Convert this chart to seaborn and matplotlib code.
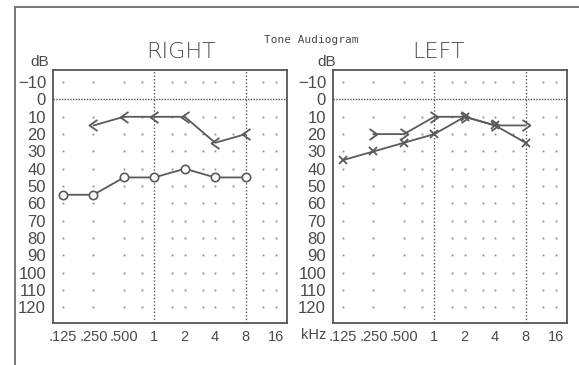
import numpy as np
import pandas as pd
import matplotlib
matplotlib.use("Agg")
import matplotlib.pyplot as plt
from matplotlib.lines import Line2D
from matplotlib.path import Path
from matplotlib.markers import MarkerStyle
import seaborn as sns

# ---- data ----
freqs = [0.125, 0.25, 0.5, 1, 2, 4, 8]
bone_freqs = [0.25, 0.5, 1, 2, 4, 8]
right_air = [55, 55, 45, 45, 40, 45, 45]
right_bone = [15, 10, 10, 10, 25, 20]
left_air = [35, 30, 25, 20, 10, 15, 25]
left_bone = [20, 20, 10, 10, 15, 15]
tick_freqs = [0.125, 0.25, 0.5, 1, 2, 4, 8, 16]
tick_labels = [".125", ".250", ".500", "1", "2", "4", "8", "16"]
db_ticks = list(range(-10, 130, 10))
dot_freqs = [0.125, 0.25, 0.5, 0.75, 1.5, 2, 3, 4, 6, 12, 16]
dot_dbs = [-10, 10, 20, 30, 40, 50, 60, 70, 80, 90, 100, 110, 120]

sns.set_style("white")
FONT = ["Liberation Sans", "DejaVu Sans"]
plt.rcParams["font.family"] = FONT

W, H = 579, 365
fig = plt.figure(figsize=(W / 100, H / 100), dpi=100)
fig.patch.set_facecolor("white")

INK = "#4a4a4a"
LINE = "#5a5a5a"

lt = MarkerStyle(Path([(0.5, 0.7), (-0.5, 0.0), (0.5, -0.7)],
                      [Path.MOVETO, Path.LINETO, Path.LINETO]))
gt = MarkerStyle(Path([(-0.5, 0.7), (0.5, 0.0), (-0.5, -0.7)],
                      [Path.MOVETO, Path.LINETO, Path.LINETO]))


def make_ax(x0, x1):
    ax = fig.add_axes([x0 / W, 1 - 323 / H, (x1 - x0) / W, (323 - 70) / H])
    ax.set_xscale("log", base=2)
    ax.set_xlim(0.125 * 2 ** -0.33, 0.125 * 2 ** 7.36)
    ax.set_ylim(129, -17)
    ax.set_xticks(tick_freqs)
    ax.set_xticklabels(tick_labels)
    ax.xaxis.set_minor_locator(matplotlib.ticker.NullLocator())
    ax.set_yticks(db_ticks)
    ax.tick_params(length=0, colors=INK)
    ax.tick_params(axis="y", labelsize=12, pad=5)
    ax.tick_params(axis="x", labelsize=10.5, pad=5)
    for s in ax.spines.values():
        s.set_color("#555555")
        s.set_linewidth(1.3)
    # grid dots
    gx, gy = np.meshgrid(dot_freqs, dot_dbs)
    ax.plot(gx.ravel(), gy.ravel(), ls="none", marker="s", ms=1.3,
            mfc="#8a8a8a", mec="none", zorder=1)
    ax.axhline(0, color="#555555", ls=(0, (1, 1)), lw=1.0, zorder=1)
    for f in (1, 8):
        ax.axvline(f, color="#555555", ls=(0, (1, 1.5)), lw=1.0, zorder=1)
    return ax


axR = make_ax(53, 287)
axL = make_ax(333, 567)

dfR_air = pd.DataFrame({"f": freqs, "db": right_air})
dfR_bone = pd.DataFrame({"f": bone_freqs, "db": right_bone})
dfL_air = pd.DataFrame({"f": freqs, "db": left_air})
dfL_bone = pd.DataFrame({"f": bone_freqs, "db": left_bone})

common = dict(x="f", y="db", color=LINE, linewidth=1.3, sort=False, zorder=3)
sns.lineplot(data=dfR_air, ax=axR, marker="o", markersize=6, mfc="white",
             mec=LINE, mew=1.2, **common)
sns.lineplot(data=dfR_bone, ax=axR, marker=lt, markersize=8, mfc="none",
             mec=LINE, mew=1.3, **common)
sns.lineplot(data=dfL_air, ax=axL, marker="x", markersize=6, mec=LINE,
             mew=1.3, **common)
sns.lineplot(data=dfL_bone, ax=axL, marker=gt, markersize=8, mfc="none",
             mec=LINE, mew=1.3, **common)
for ax in (axR, axL):
    ax.set_xlabel("")
    ax.set_ylabel("")

# texts
fig.text(40 / W, 1 - 62 / H, "dB", ha="center", va="center", fontsize=11, color=INK)
fig.text(327 / W, 1 - 62 / H, "dB", ha="center", va="center", fontsize=11, color=INK)
fig.text(314 / W, 1 - 335 / H, "kHz", ha="center", va="center", fontsize=10.5, color=INK)
fig.text(181 / W, 1 - 52 / H, "RIGHT", ha="center", va="center", fontsize=16,
         color=INK, fontweight="light", family=["DejaVu Sans"])
fig.text(438 / W, 1 - 52 / H, "LEFT", ha="center", va="center", fontsize=16,
         color=INK, fontweight="light", family=["DejaVu Sans"])
fig.text(311 / W, 1 - 40 / H, "Tone Audiogram", ha="center", va="center",
         fontsize=8, color=INK, family=["DejaVu Sans Mono", "DejaVu Sans"])

# outer frame
fig.add_artist(Line2D([15 / W, 1], [1 - 7 / H, 1 - 7 / H], color="#777777", lw=1.4))
fig.add_artist(Line2D([15 / W, 15 / W], [0, 1 - 7 / H], color="#777777", lw=1.4))

fig.savefig("out.png", dpi=100, facecolor="white")
